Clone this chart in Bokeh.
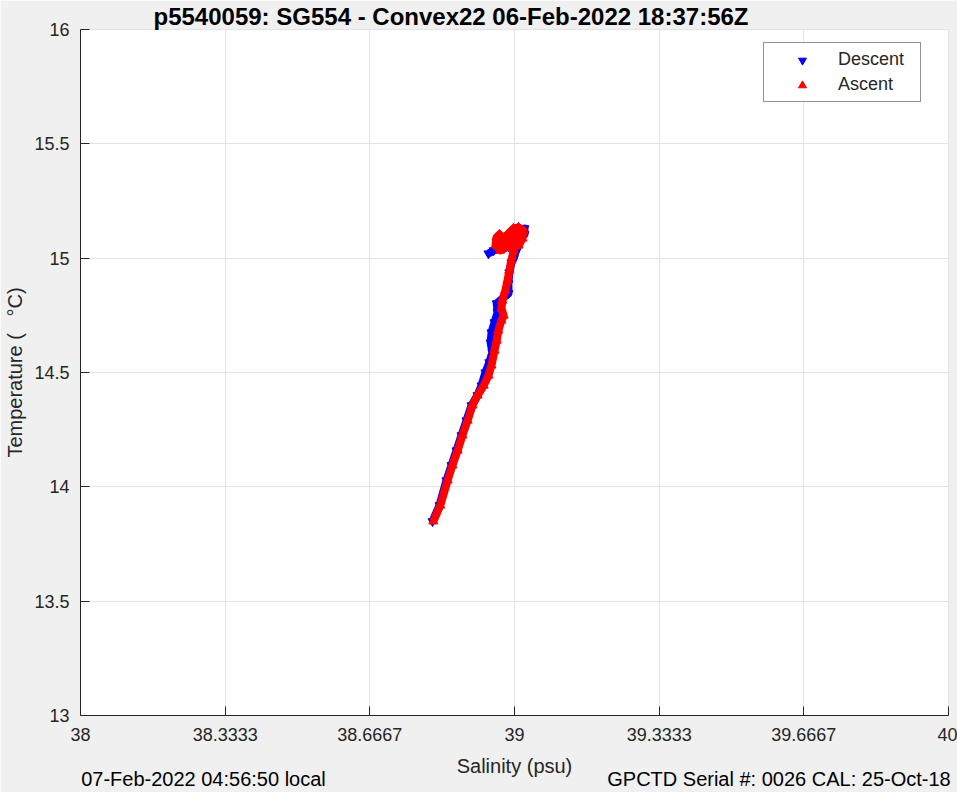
from bokeh.plotting import figure
from bokeh.models import Range1d, FixedTicker, Legend, LegendItem, LinearAxis
from bokeh.embed import file_html
from bokeh.resources import INLINE

FONT = "Liberation Sans"
TXT = "#262626"
GRID = "#e3e3e3"

title_text = "p5540059: SG554 - Convex22 06-Feb-2022 18:37:56Z"
left_note = "07-Feb-2022 04:56:50 local"
right_note = "GPCTD Serial #: 0026 CAL: 25-Oct-18"
x_label = "Salinity (psu)"
y_label = "Temperature (\u00a0\u00a0\u00a0\u00b0C)"

x_ticks = [38, 38 + 1 / 3, 38 + 2 / 3, 39, 39 + 1 / 3, 39 + 2 / 3, 40]
x_tick_labels = ["38", "38.3333", "38.6667", "39", "39.3333", "39.6667", "40"]
y_ticks = [13, 13.5, 14, 14.5, 15, 15.5, 16]
y_tick_labels = ["13", "13.5", "14", "14.5", "15", "15.5", "16"]

# salinity positions under which the footer notes are centred
note_pos = [38.2834, 39.6094]
note_texts = [left_note, right_note]

# Descent (surface -> depth)
desc_sal = [38.940, 38.952, 38.968, 38.986, 39.005, 39.023, 39.023, 39.014, 39.002,
            38.998, 38.993, 38.988, 38.986, 38.986, 38.959, 38.961, 38.954, 38.947,
            38.945, 38.949, 38.942, 38.933, 38.924, 38.9147, 38.9009, 38.8894,
            38.8779, 38.8664, 38.8548, 38.8433, 38.8272, 38.8111]
desc_temp = [15.020, 15.034, 15.042, 15.051, 15.077, 15.104, 15.130, 15.077, 15.025,
             14.999, 14.981, 14.937, 14.889, 14.846, 14.802, 14.763, 14.719, 14.675,
             14.631, 14.588, 14.544, 14.500, 14.443, 14.400, 14.356, 14.290,
             14.225, 14.159, 14.094, 14.028, 13.919, 13.849]

# Ascent (depth -> surface)
asc_sal = [38.813, 38.829, 38.846, 38.857, 38.869, 38.880, 38.892, 38.903, 38.915,
           38.929, 38.940, 38.947, 38.954, 38.959, 38.963, 38.970, 38.975, 38.970,
           38.972, 38.979, 38.984, 38.988, 38.993, 38.998, 39.002,
           39.0092, 39.0184, 39.0207, 39.0092, 38.9977, 38.9862, 38.9747, 38.9654,
           38.9585, 38.9562, 38.9677, 38.9816, 38.9931, 39.0046, 39.0138, 38.9977,
           38.9816, 38.9677]
asc_temp = [13.849, 13.919, 14.028, 14.094, 14.159, 14.225, 14.290, 14.356, 14.400,
            14.443, 14.487, 14.531, 14.596, 14.640, 14.684, 14.728, 14.749, 14.780,
            14.815, 14.859, 14.902, 14.946, 14.990, 15.034, 15.077,
            15.0555, 15.0861, 15.1211, 15.1342, 15.1299, 15.1080, 15.0861, 15.1036,
            15.0905, 15.0555, 15.0337, 15.0468, 15.0643, 15.0949, 15.1036, 15.0949,
            15.0686, 15.0643]

p = figure(width=957, height=792, output_backend="svg", toolbar_location=None,
           x_range=Range1d(38, 40), y_range=Range1d(13, 16),
           min_border_left=80, min_border_right=9, min_border_top=29,
           min_border_bottom=77)
p.border_fill_color = "#f0f0f0"
p.background_fill_color = "white"
p.outline_line_color = GRID
p.outline_line_width = 1

p.title.text = title_text
p.title.align = "left"
p.title.offset = 73
p.title.standoff = 0
p.title.text_font = FONT
p.title.text_font_size = "24px"
p.title.text_font_style = "bold"
p.title.text_color = "black"

p.xaxis.ticker = FixedTicker(ticks=x_ticks, minor_ticks=[])
p.xaxis.major_label_overrides = dict(zip(x_ticks, x_tick_labels))
p.yaxis.ticker = FixedTicker(ticks=y_ticks, minor_ticks=[])
p.yaxis.major_label_overrides = dict(zip(y_ticks, y_tick_labels))

for ax in (p.xaxis[0], p.yaxis[0]):
    ax.axis_line_color = TXT
    ax.major_tick_line_color = TXT
    ax.major_tick_in = 9
    ax.major_tick_out = 0
    ax.minor_tick_line_color = None
    ax.major_label_text_font = FONT
    ax.major_label_text_font_size = "18px"
    ax.major_label_text_color = TXT
    ax.axis_label_text_font = FONT
    ax.axis_label_text_font_size = "20px"
    ax.axis_label_text_font_style = "normal"
    ax.axis_label_text_color = TXT

p.xaxis.axis_label = x_label
p.yaxis.axis_label = y_label
p.xaxis.major_label_standoff = 12
p.xaxis.axis_label_standoff = 11
p.yaxis.major_label_standoff = 11
p.yaxis.axis_label_standoff = 5

# footer notes drawn as an extra, line-less axis below the salinity axis
notes_axis = LinearAxis(ticker=FixedTicker(ticks=note_pos, minor_ticks=[]),
                        major_label_overrides=dict(zip(note_pos, note_texts)))
notes_axis.axis_line_color = None
notes_axis.major_tick_line_color = None
notes_axis.minor_tick_line_color = None
notes_axis.major_tick_in = 0
notes_axis.major_tick_out = 0
notes_axis.major_label_standoff = -12
notes_axis.major_label_text_font = FONT
notes_axis.major_label_text_font_size = "20px"
notes_axis.major_label_text_color = "black"
p.add_layout(notes_axis, "below")

p.grid.grid_line_color = GRID
p.grid.grid_line_width = 1

# descent
p.line(desc_sal, desc_temp, line_color="#0000ff", line_width=8, line_join="round")
rd = p.scatter(desc_sal, desc_temp, marker="inverted_triangle", size=9,
               fill_color="#0000ff", line_color="#0000ff")
# ascent
p.line(asc_sal, asc_temp, line_color="#ff0000", line_width=8, line_join="round")
ra = p.scatter(asc_sal, asc_temp, marker="triangle", size=9,
               fill_color="#ff0000", line_color="#ff0000")

legend = Legend(items=[LegendItem(label="Descent", renderers=[rd]),
                       LegendItem(label="Ascent", renderers=[ra])],
                location=(683, 613))
legend.label_text_font = FONT
legend.label_text_font_size = "18px"
legend.label_text_color = TXT
legend.border_line_color = TXT
legend.border_line_width = 1
legend.background_fill_color = "white"
legend.background_fill_alpha = 1
legend.padding = 6
legend.spacing = 4
legend.glyph_width = 64
legend.glyph_height = 20
legend.label_height = 20
legend.label_standoff = 4
legend.label_width = 76
legend.margin = 0
p.add_layout(legend, "center")

open("out.html", "w").write(file_html(p, INLINE))
